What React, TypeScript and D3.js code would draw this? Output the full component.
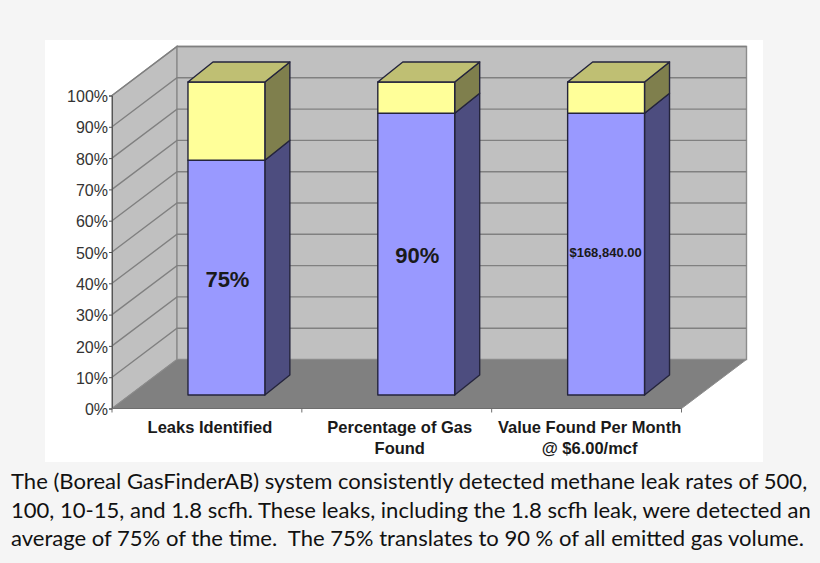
import { useEffect, useRef } from 'react';
import * as d3 from 'd3';

const categories = ['Leaks Identified', 'Percentage of Gas Found', 'Value Found Per Month @ $6.00/mcf'];
const categoryLines = [['Leaks Identified'], ['Percentage of Gas', 'Found'], ['Value Found Per Month', '@ $6.00/mcf']];
const foundValues = [75, 90, 90];
const restValues = [25, 10, 10];
const barLabels = ['75%', '90%', '$168,840.00'];
const barLabelSizes = [22, 22, 13];
const yTicks = [0, 10, 20, 30, 40, 50, 60, 70, 80, 90, 100];
const captionLines = [
  'The (Boreal GasFinderAB) system consistently detected methane leak rates of 500,',
  '100, 10-15, and 1.8 scfh. These leaks, including the 1.8 scfh leak, were detected an',
  'average of 75% of the time.  The 75% translates to 90 % of all emitted gas volume.',
];

const width = 820;
const height = 563;
const plotLeft = 112;
const plotRight = 681.5;
const plotBottom = 408.5;
const plotTop = 95.5;
// wall depth of the fake 3d box, and where the bars sit inside it
const depthX = 65;
const depthY = 49;
const barOffsetX = 19.5;
const barOffsetY = 13.5;
const barDepthX = 25;
const barDepthY = 20;

const App = (): JSX.Element => {
  const svgRef = useRef<SVGSVGElement>(null);

  useEffect(() => {
    const svg = d3.select(svgRef.current);
    svg.selectAll('*').remove();

    const x = d3.scaleBand<string>().domain(categories).range([plotLeft, plotRight]).paddingInner(0.595).paddingOuter(0.2975);
    const y = d3.scaleLinear().domain([0, 100]).range([plotBottom, plotTop]);

    const poly = (pts: [number, number][]) => (d3.line()(pts) as string) + 'Z';

    svg.append('rect').attr('width', width).attr('height', height).attr('fill', '#f5f5f5');
    svg.append('rect').attr('x', 45).attr('y', 40).attr('width', 718).attr('height', 422).attr('fill', '#ffffff');

    // Walls and floor
    const wallStroke = '#8c8c8c';
    svg
      .append('path')
      .attr('d', poly([[plotLeft, y(0)], [plotLeft, y(100)], [plotLeft + depthX, y(100) - depthY], [plotLeft + depthX, y(0) - depthY]]))
      .attr('fill', '#c0c0c0')
      .attr('stroke', wallStroke)
      .attr('stroke-width', 1.4);
    svg
      .append('path')
      .attr('d', poly([[plotLeft + depthX, y(0) - depthY], [plotLeft + depthX, y(100) - depthY], [plotRight + depthX, y(100) - depthY], [plotRight + depthX, y(0) - depthY]]))
      .attr('fill', '#c0c0c0')
      .attr('stroke', wallStroke)
      .attr('stroke-width', 1.4);
    svg
      .append('path')
      .attr('d', poly([[plotLeft, y(0)], [plotLeft + depthX, y(0) - depthY], [plotRight + depthX, y(0) - depthY], [plotRight, y(0)]]))
      .attr('fill', '#808080')
      .attr('stroke', '#8c8c8c');

    // Gridlines run along the side wall and across the back wall
    svg
      .append('g')
      .selectAll('path')
      .data(yTicks.slice(1))
      .enter()
      .append('path')
      .attr('d', (d) => d3.line()([[plotLeft, y(d)], [plotLeft + depthX, y(d) - depthY], [plotRight + depthX, y(d) - depthY]]) as string)
      .attr('fill', 'none')
      .attr('stroke', '#808080')
      .attr('stroke-width', 1.4);

    // Bars
    const barStroke = '#24243c';
    const drawBox = (x0: number, x1: number, top: number, bottom: number, front: string, side: string) => {
      const g = svg.append('g').attr('stroke', barStroke).attr('stroke-width', 1.4).attr('stroke-linejoin', 'round');
      g.append('path')
        .attr('d', poly([[x1, bottom], [x1, top], [x1 + barDepthX, top - barDepthY], [x1 + barDepthX, bottom - barDepthY]]))
        .attr('fill', side);
      g.append('rect').attr('x', x0).attr('y', top).attr('width', x1 - x0).attr('height', bottom - top).attr('fill', front);
    };

    categories.forEach((c, i) => {
      const x0 = (x(c) as number) + barOffsetX;
      const x1 = x0 + x.bandwidth();
      const yBase = (v: number) => y(v) - barOffsetY;
      const found = foundValues[i];
      const total = found + restValues[i];
      drawBox(x0, x1, yBase(found), yBase(0), '#9999ff', '#4d4d7f');
      drawBox(x0, x1, yBase(total), yBase(found), '#ffff99', '#7f7f4d');
      svg
        .append('path')
        .attr('d', poly([[x0, yBase(total)], [x0 + barDepthX, yBase(total) - barDepthY], [x1 + barDepthX, yBase(total) - barDepthY], [x1, yBase(total)]]))
        .attr('fill', '#bfbf73')
        .attr('stroke', barStroke)
        .attr('stroke-width', 1.4)
        .attr('stroke-linejoin', 'round');
      // the small money label sits a little higher than the percent ones
      const labelShift = barLabelSizes[i] < 15 ? -2 : 1;
      svg
        .append('text')
        .attr('x', (x0 + x1) / 2 + (barLabelSizes[i] < 15 ? -0.5 : 1))
        .attr('y', yBase(found / 2) + barLabelSizes[i] * 0.36 + labelShift)
        .attr('text-anchor', 'middle')
        .attr('font-family', '"Liberation Sans", Arial, sans-serif')
        .attr('font-weight', 'bold')
        .attr('font-size', barLabelSizes[i])
        .attr('fill', '#1a1a1a')
        .text(barLabels[i]);
    });

    // Axes
    const yAxis = svg
      .append('g')
      .attr('transform', `translate(${plotLeft},0)`)
      .call(d3.axisLeft(y).tickValues(yTicks).tickSize(3).tickPadding(1).tickFormat((d) => `${d}%`));
    yAxis.select('.domain').attr('stroke', '#555555');
    yAxis.selectAll('.tick line').attr('stroke', '#555555');
    yAxis
      .selectAll('.tick text')
      .attr('y', 1)
      .attr('font-family', '"Liberation Sans", Arial, sans-serif')
      .attr('font-size', 16)
      .attr('fill', '#333333');

    const baseLine = svg.append('g');
    baseLine.append('line').attr('x1', plotLeft).attr('x2', plotRight).attr('y1', plotBottom).attr('y2', plotBottom).attr('stroke', '#6e6e6e');
    const tickXs = [...categories.map((c) => (x(c) as number) - (x.step() - x.bandwidth()) / 2), plotRight];
    baseLine
      .selectAll('line.tick')
      .data(tickXs)
      .enter()
      .append('line')
      .attr('class', 'tick')
      .attr('x1', (d) => d)
      .attr('x2', (d) => d)
      .attr('y1', plotBottom)
      .attr('y2', plotBottom + 4)
      .attr('stroke', '#6e6e6e');

    categories.forEach((c, i) => {
      const cx = (x(c) as number) + x.bandwidth() / 2 + 3;
      categoryLines[i].forEach((line, j) => {
        svg
          .append('text')
          .attr('x', cx)
          .attr('y', 433 + j * 21)
          .attr('text-anchor', 'middle')
          .attr('font-family', '"Liberation Sans", Arial, sans-serif')
          .attr('font-weight', 'bold')
          .attr('font-size', 16.5)
          .attr('fill', '#1a1a1a')
          .text(line);
      });
    });

    // Caption
    captionLines.forEach((line, i) => {
      svg
        .append('text')
        .attr('x', 11)
        .attr('y', 489 + i * 28.5)
        .style('white-space', 'pre')
        .attr('font-family', 'Lato, sans-serif')
        .attr('font-size', 22.05)
        .attr('fill', '#111111')
        .text(line);
    });
  }, []);

  return (
    <svg
      ref={svgRef}
      width={width}
      height={height}
      viewBox={`0 0 ${width} ${height}`}
      style={{ position: 'fixed', left: 0, top: 0 }}
    />
  );
};

export default App;
